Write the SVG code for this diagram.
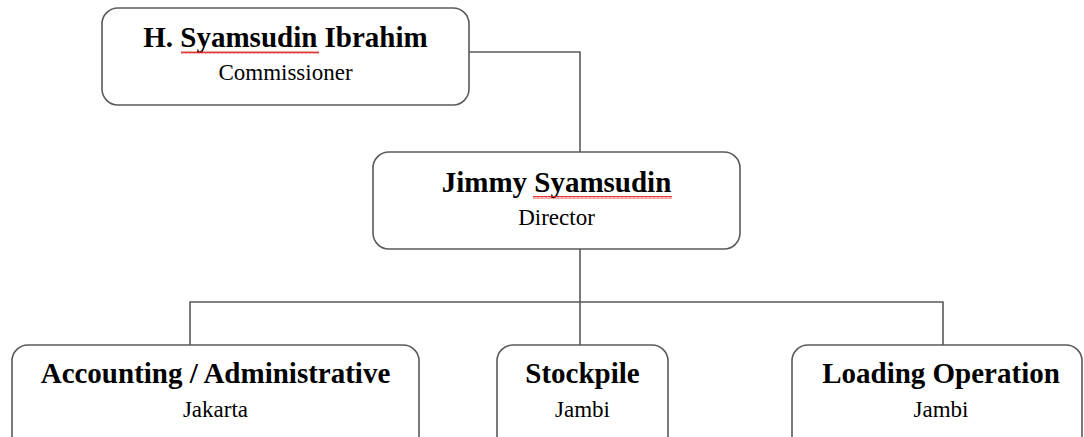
<svg xmlns="http://www.w3.org/2000/svg" width="1084" height="437" viewBox="0 0 1084 437">
<defs>
<style>
.box{fill:#fff;stroke:#5a5a5a;stroke-width:1.6}
.conn{fill:none;stroke:#5a5a5a;stroke-width:1.6}
.t{font-family:"Liberation Serif","Times New Roman",serif;font-weight:bold;font-size:29px;fill:#000;text-anchor:middle}
.s{font-family:"Liberation Serif","Times New Roman",serif;font-size:23px;fill:#000;text-anchor:middle}
.sq{fill:none;stroke:#e02020;stroke-width:0.9}
</style>
<pattern id="wave" x="0" y="0" width="4" height="3" patternUnits="userSpaceOnUse"><path d="M0,2.5 L1,0.5 L2,2.5 L3,0.5 L4,2.5" class="sq"/></pattern>
</defs>
<rect width="1084" height="437" fill="#fff"/>
<g id="connectors">
<polyline class="conn" points="469,52 580,52 580,152"/>
<line class="conn" x1="580" y1="249" x2="580" y2="345"/>
<polyline class="conn" points="190,345 190,302 943,302 943,345"/>
</g>
<g id="commissioner">
<rect class="box" x="102" y="8" width="367" height="97" rx="16"/>
<text class="t" x="285.5" y="47">H. Syamsudin Ibrahim</text>
<rect x="181" y="51" width="138" height="3" fill="url(#wave)"/>
<text class="s" x="285.5" y="80">Commissioner</text>
</g>
<g id="director">
<rect class="box" x="373" y="152" width="367" height="97" rx="16"/>
<text class="t" x="556.5" y="192">Jimmy Syamsudin</text>
<rect x="533" y="196" width="139" height="3" fill="url(#wave)"/>
<text class="s" x="556.5" y="225">Director</text>
</g>
<g id="accounting">
<rect class="box" x="12" y="345" width="407" height="110" rx="16"/>
<text class="t" x="215.5" y="383">Accounting / Administrative</text>
<text class="s" x="215.5" y="417">Jakarta</text>
</g>
<g id="stockpile">
<rect class="box" x="497" y="345" width="171" height="110" rx="16"/>
<text class="t" x="582.5" y="383">Stockpile</text>
<text class="s" x="582.5" y="417">Jambi</text>
</g>
<g id="loading">
<rect class="box" x="792" y="345" width="290" height="110" rx="16"/>
<text class="t" x="941" y="383">Loading Operation</text>
<text class="s" x="941" y="417">Jambi</text>
</g>
</svg>
